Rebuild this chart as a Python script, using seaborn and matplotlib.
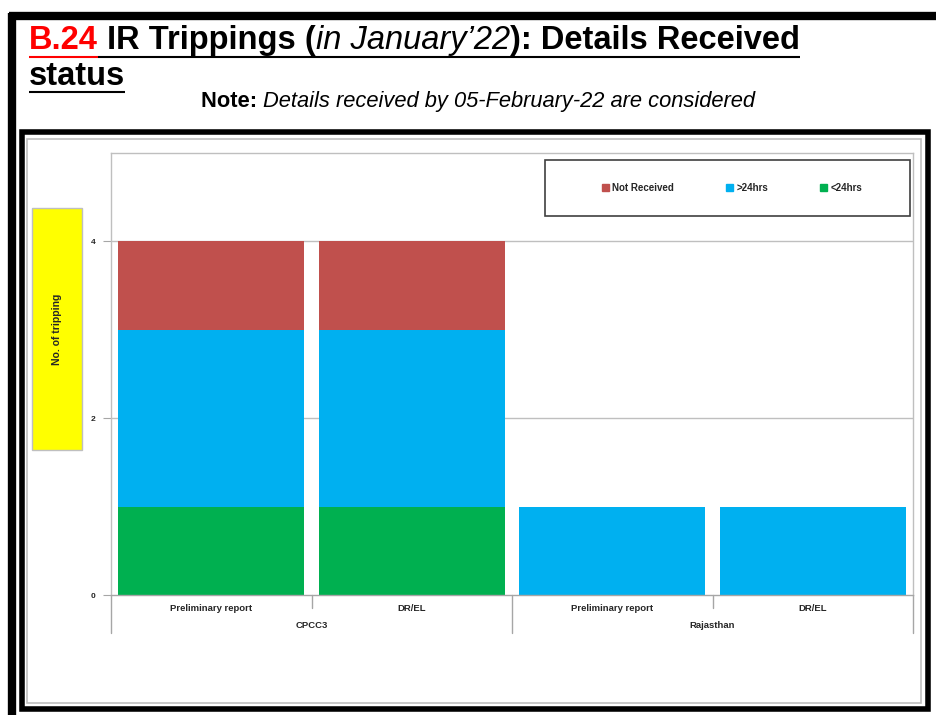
import pandas as pd
import matplotlib.pyplot as plt
import seaborn as sns
from matplotlib.patches import Rectangle, Patch
from matplotlib.lines import Line2D

# chart data
groups = ["CPCC3", "CPCC3", "Rajasthan", "Rajasthan"]
reports = ["Preliminary report", "DR/EL", "Preliminary report", "DR/EL"]
less_24 = [1, 1, 0, 0]
more_24 = [2, 2, 1, 1]
not_received = [1, 1, 0, 0]

series_names = ["Not Received", ">24hrs", "<24hrs"]
series_colors = ["#C0504D", "#00B0F0", "#00B050"]

W, H = 936, 715


def fx(x):
    return x / W


def fy(y):
    return 1 - y / H


def draw_pieces(fig, x, y, pieces, size, target=None):
    """Draw text pieces one after another on a baseline (pixel coords)."""
    renderer = fig.canvas.get_renderer()
    x0 = x
    texts, spans = [], []
    for txt, color, weight, style in pieces:
        t = fig.text(fx(x), fy(y), txt, color=color, fontsize=size,
                     fontweight=weight, fontstyle=style, va="baseline", ha="left")
        bb = t.get_window_extent(renderer)
        texts.append(t)
        spans.append((x, x + bb.width, color))
        x += bb.width
    if target is not None:
        # shrink/grow to fit the wanted width
        for t in texts:
            t.remove()
        return draw_pieces(fig, x0, y, pieces, size * target / (x - x0))
    return spans


def line(fig, x0, x1, y0, y1, color, lw):
    fig.add_artist(Line2D([fx(x0), fx(x1)], [fy(y0), fy(y1)], color=color,
                          lw=lw, solid_capstyle="butt"))


def main():
    sns.set_style("white")
    plt.rcParams["font.family"] = ["Liberation Sans", "DejaVu Sans"]

    df = pd.DataFrame({
        "key": [f"{g}|{r}" for g, r in zip(groups, reports)],
        "lt24": less_24,
        "gt24": more_24,
        "nr": not_received,
    })
    df["c1"] = df["lt24"]
    df["c2"] = df["lt24"] + df["gt24"]
    df["c3"] = df["c2"] + df["nr"]

    fig = plt.figure(figsize=(W / 100, H / 100), dpi=100)

    # page frames
    line(fig, 9, 936, 16, 16, "black", 6)
    line(fig, 12, 12, 13, 715, "black", 6)
    fig.add_artist(Rectangle((fx(22), fy(709)), fx(906), (709 - 132) / H,
                             fill=False, edgecolor="black", lw=4))
    fig.add_artist(Rectangle((fx(27), fy(703)), fx(894), (703 - 139) / H,
                             fill=False, edgecolor="#BFBFBF", lw=1.2))

    ax = fig.add_axes([fx(111), fy(595), (913 - 111) / W, (595 - 153) / H])

    # stacked bars, drawn as cumulative totals
    for col, color in zip(["c3", "c2", "c1"], series_colors):
        sns.barplot(data=df, x="key", y=col, color=color, width=0.93,
                    saturation=1, ax=ax, errorbar=None, linewidth=0)

    ax.set_ylim(0, 5)
    ax.set_xlim(-0.5, 3.5)
    ax.set_yticks([0, 2, 4])
    ax.set_yticklabels(["0", "2", "4"], fontsize=6, fontweight="bold")
    ax.tick_params(axis="y", length=6, color="#A6A6A6", pad=5, left=True)
    ax.set_xticks([])
    ax.set_xlabel("")
    ax.set_ylabel("")
    for y in [2, 4]:
        ax.axhline(y, color="#BFBFBF", lw=1, zorder=0)
    for s in ax.spines.values():
        s.set_color("#BFBFBF")
        s.set_linewidth(1)
    ax.spines["bottom"].set_color("#A6A6A6")

    # multi-level category axis
    xt = ax.get_xaxis_transform()
    for i, r in enumerate(reports):
        ax.text(i, -0.03, r, transform=xt, ha="center", va="center",
                fontsize=6.8, fontweight="bold")
    for xs in [0.5, 2.5]:
        ax.plot([xs, xs], [0, -0.03], transform=xt, color="#A6A6A6", lw=1,
                clip_on=False)
    for xs in [-0.5, 1.5, 3.5]:
        ax.plot([xs, xs], [0, -0.085], transform=xt, color="#A6A6A6", lw=1,
                clip_on=False)
    group_names = list(dict.fromkeys(groups))
    for j, g in enumerate(group_names):
        ax.text(2 * j + 0.5, -0.07, g, transform=xt, ha="center", va="center",
                fontsize=6.8, fontweight="bold")

    # legend in a plain box
    fig.add_artist(Rectangle((fx(545), fy(216)), (910 - 545) / W, (216 - 160) / H,
                             fill=True, facecolor="white", edgecolor="#404040", lw=1.2))
    handles = [Patch(facecolor=c, edgecolor=c) for c in series_colors]
    fig.legend(handles, series_names, loc="center",
               bbox_to_anchor=(fx(732), fy(188)), ncol=3, frameon=False,
               handlelength=0.7, handleheight=0.7, handletextpad=0.4,
               columnspacing=5.3, prop={"size": 7, "weight": "bold"})

    # y label box
    fig.add_artist(Rectangle((fx(32), fy(450)), 50 / W, (450 - 208) / H,
                             facecolor="#FFFF00", edgecolor="#BFBFBF", lw=1))
    fig.text(fx(57), fy(329), "No. of tripping", rotation=90, ha="center",
             va="center", fontsize=7.5, fontweight="bold")

    # title
    spans = draw_pieces(fig, 29, 49, [
        ("B.24", "#FF0000", "bold", "normal"),
        (" IR Trippings (", "black", "bold", "normal"),
        ("in January\u201922", "black", "normal", "italic"),
        ("): Details Received", "black", "bold", "normal"),
    ], 22, target=770)
    title_size = plt.gcf().texts[-1].get_fontsize()
    line(fig, spans[0][0], spans[0][1], 57, 57, "#FF0000", 1.5)
    line(fig, spans[0][1], spans[-1][1], 57, 57, "black", 1.5)
    spans2 = draw_pieces(fig, 29, 85, [("status", "black", "bold", "normal")],
                         title_size)
    line(fig, spans2[0][0], spans2[0][1], 92, 92, "black", 1.5)

    draw_pieces(fig, 201, 107, [
        ("Note: ", "black", "bold", "normal"),
        ("Details received by 05-February-22 are considered", "black",
         "normal", "italic"),
    ], 14, target=556)

    fig.savefig("out.png", dpi=100)
    plt.close(fig)


if __name__ == "__main__":
    main()
